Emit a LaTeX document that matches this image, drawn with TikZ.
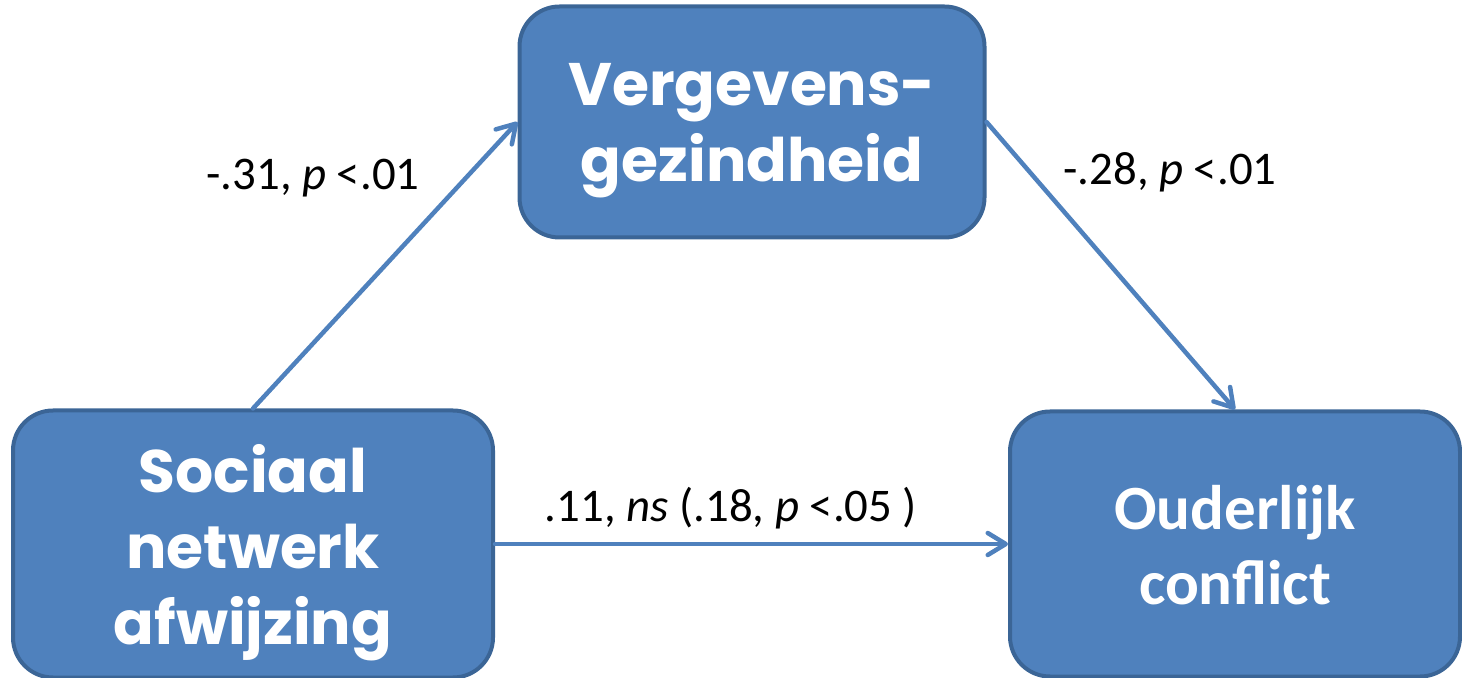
\documentclass[tikz,border=0pt]{standalone}
\usepackage{fontspec}
\setmainfont{Carlito}
\newfontfamily\gothic{Poppins}
\usetikzlibrary{arrows.meta}
\definecolor{boxblue}{HTML}{4F81BD}
\definecolor{boxline}{HTML}{3B6596}
\newcommand\lift[1]{\rule{0pt}{#1}}
\tikzset{
    box/.style={shape=rectangle,rounded corners=20pt,draw=boxline,fill=boxblue,line width=2pt,text=white,align=center,inner sep=0pt},
    gothic box/.style={box,font=\gothic\bfseries\fontsize{30}{38}\selectfont},
    calibri box/.style={box,font=\bfseries\fontsize{31.5}{37.5}\selectfont},
    link/.style={draw=boxblue,line width=2.25pt,line cap=round,-{Straight Barb[length=9pt,width=11pt,line width=2.25pt,round]}},
    lbl/.style={font=\fontsize{23.4}{28}\selectfont,inner sep=0pt}
}

\begin{document}
\begin{tikzpicture}[x=0.5pt,y=-0.5pt]
    \useasboundingbox (0,0) rectangle (1462,678);
    % boxes
    \node[gothic box, minimum width=232.5pt, minimum height=115.5pt] (verg) at (752,122) {\lift{1em}Vergevens-\\gezindheid};
    \node[gothic box, minimum width=240pt, minimum height=133.5pt] (sna) at (253,544) {\lift{1.1em}Sociaal\\netwerk\\afwijzing};
    \node[calibri box, minimum width=225pt, minimum height=132.5pt] (conf) at (1235,544) {\lift{0.75em}Ouderlijk\\conflict};

    % paths
    \draw[link] (sna.north) -- (verg.west);
    \draw[link] (verg.east) -- (conf.north);
    \draw[link] (sna.east) -- (conf.west);

    % coefficients
    \node[lbl] (a) at (313,178) {-.31, \textit{p} <.01};
    \node[lbl] (b) at (1170,172) {-.28, \textit{p} <.01};
    \node[lbl] (c) at (731,508) {.11, \textit{ns} (.18, \textit{p} <.05 )};
\end{tikzpicture}
\end{document}
